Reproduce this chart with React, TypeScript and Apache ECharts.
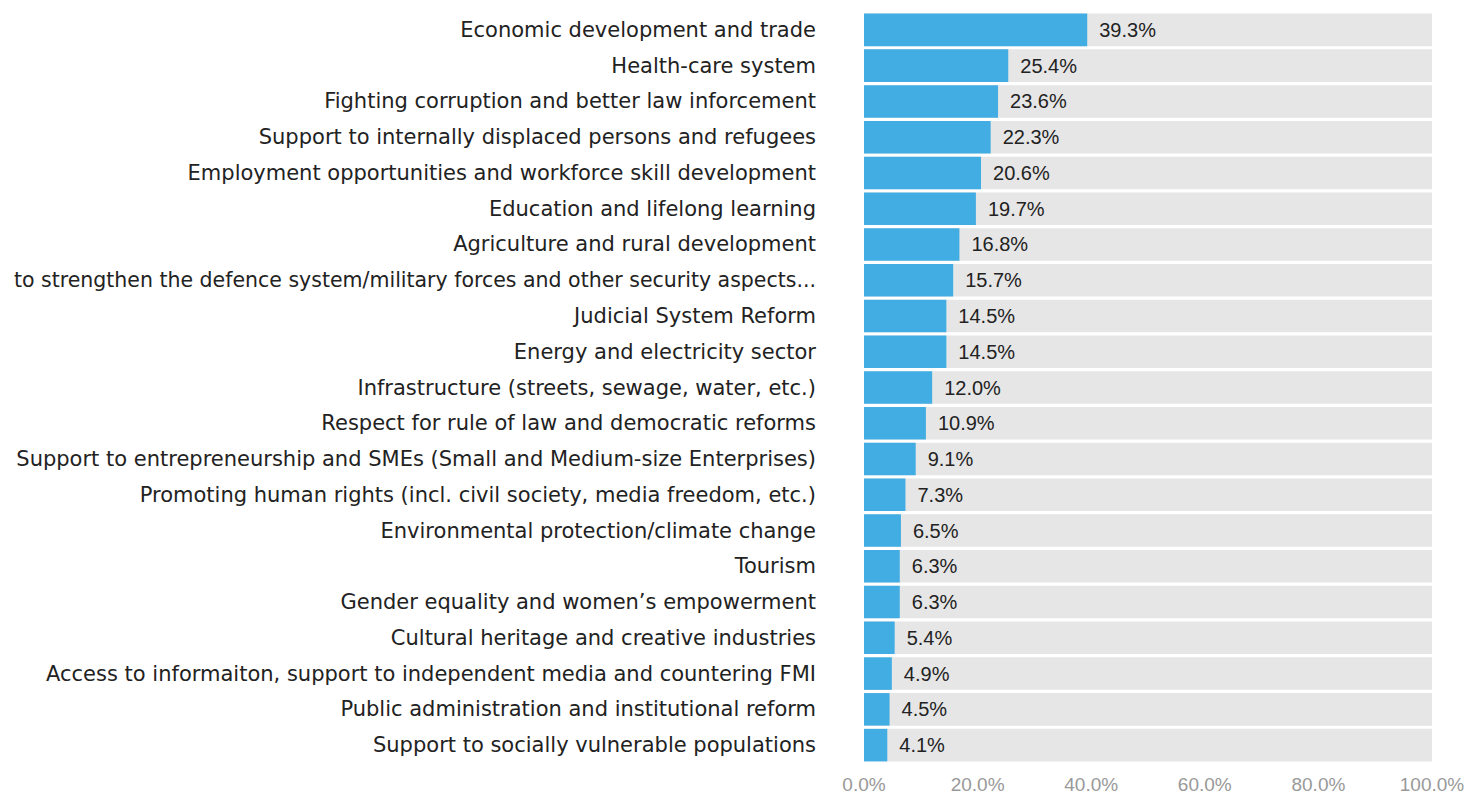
import React, { useEffect, useRef } from "react";
import * as echarts from "echarts";

const categories = [
  "Economic development and trade",
  "Health-care system",
  "Fighting corruption and better law inforcement",
  "Support to internally displaced persons and refugees",
  "Employment opportunities and workforce skill development",
  "Education and lifelong learning",
  "Agriculture and rural development",
  "to strengthen the defence system/military forces and other security aspects...",
  "Judicial System Reform",
  "Energy and electricity sector",
  "Infrastructure (streets, sewage, water, etc.)",
  "Respect for rule of law and democratic reforms",
  "Support to entrepreneurship and SMEs (Small and Medium-size Enterprises)",
  "Promoting human rights (incl. civil society, media freedom, etc.)",
  "Environmental protection/climate change",
  "Tourism",
  "Gender equality and women’s empowerment",
  "Cultural heritage and creative industries",
  "Access to informaiton, support to independent media and countering FMI",
  "Public administration and institutional reform",
  "Support to socially vulnerable populations",
];

const values = [39.3, 25.4, 23.6, 22.3, 20.6, 19.7, 16.8, 15.7, 14.5, 14.5, 12.0, 10.9, 9.1, 7.3, 6.5, 6.3, 6.3, 5.4, 4.9, 4.5, 4.1];

const backgroundMax = 100;

export default function App() {
  const ref = useRef<HTMLDivElement>(null);
  useEffect(() => {
    if (!ref.current) return;
    const chart = echarts.init(ref.current, undefined, { renderer: "svg" });
    chart.setOption({
      animation: false,
      backgroundColor: "#ffffff",
      grid: {
        left: 864,
        right: 36,
        top: 12,
        bottom: 31,
        containLabel: false,
        outerBoundsMode: "none",
      },
      xAxis: {
        type: "value",
        min: 0,
        max: 100,
        interval: 20,
        axisLine: { show: false },
        axisTick: { show: false },
        splitLine: { show: false },
        axisLabel: {
          formatter: (v: number) => v.toFixed(1) + "%",
          color: "#999999",
          fontSize: 19,
          fontFamily: "Liberation Sans, Arial, sans-serif",
          margin: 12,
        },
      },
      yAxis: {
        type: "category",
        data: categories,
        inverse: true,
        axisLine: { show: false },
        axisTick: { show: false },
        axisLabel: {
          color: "#222222",
          fontSize: 21,
          fontFamily: "DejaVu Sans, sans-serif",
          margin: 48,
          formatter: (v: string) => (v.length > 75 ? "{s|" + v + "}" : v),
          rich: {
            s: {
              color: "#222222",
              fontSize: 20.5,
              fontFamily: "DejaVu Sans, sans-serif",
            },
          },
        },
      },
      series: [
        {
          type: "bar",
          data: categories.map(() => backgroundMax),
          barWidth: "91%",
          barGap: "-100%",
          itemStyle: { color: "#e6e6e6" },
          silent: true,
        },
        {
          type: "bar",
          data: values,
          barWidth: "91%",
          barGap: "-100%",
          itemStyle: { color: "#42ade2" },
          label: {
            show: true,
            position: "right",
            distance: 12,
            formatter: (p: any) => p.value.toFixed(1) + "%",
            color: "#222222",
            fontSize: 20,
            fontFamily: "Liberation Sans, Arial, sans-serif",
          },
        },
      ],
    });
    return () => chart.dispose();
  }, []);
  return (
    <div
      ref={ref}
      style={{ position: "fixed", left: 0, top: 0, width: 1468, height: 794 }}
    />
  );
}
